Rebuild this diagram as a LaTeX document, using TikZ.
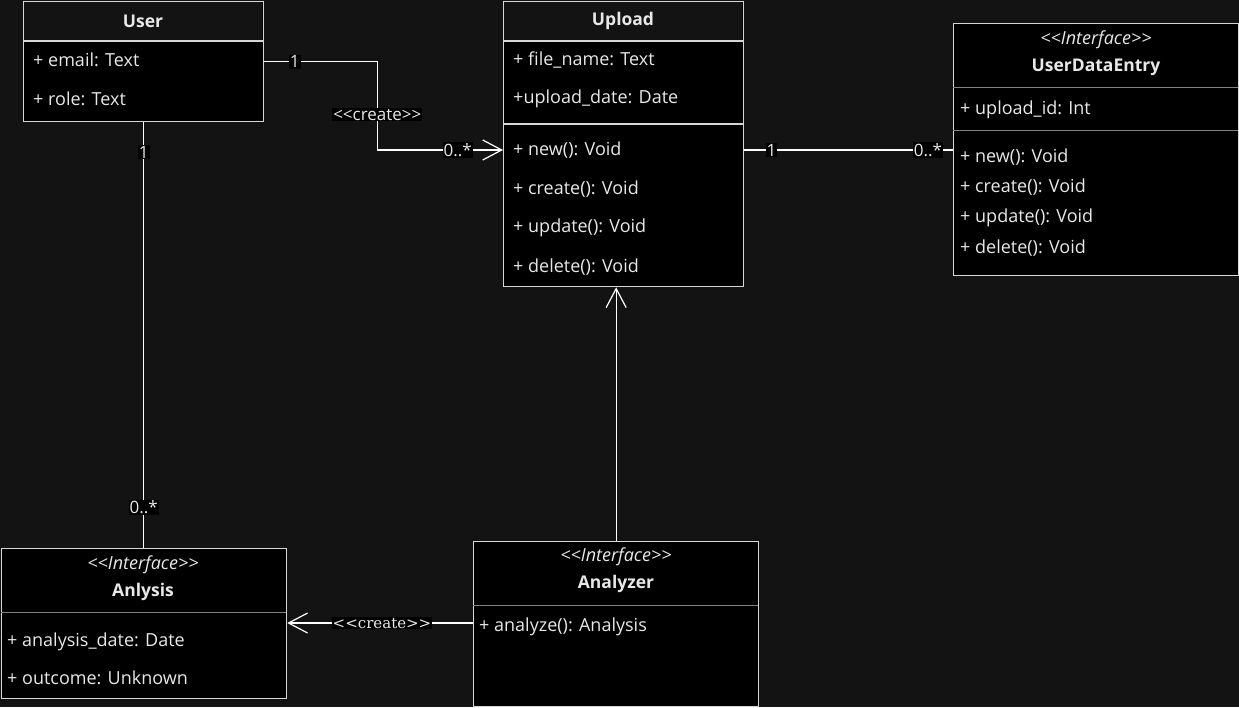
\documentclass[tikz,border=0pt]{standalone}
\usepackage{fontspec}
\setmainfont{Open Sans}
\newfontfamily\seriflabel{DejaVu Serif}
\usetikzlibrary{arrows.meta, positioning}
\definecolor{canvas}{RGB}{19,19,19}
\definecolor{edge}{RGB}{214,214,214}
\definecolor{divider}{RGB}{130,130,130}
\definecolor{ink}{RGB}{232,232,232}
\newcommand{\stereo}[1]{<{}<#1>{}>}

\begin{document}
\begin{tikzpicture}[x=1pt, y=-1pt, font=\fontsize{18}{21}\selectfont, text=ink,
  cls/.style={rectangle, draw=edge, fill=black, line width=1.3pt,
              anchor=north west, inner sep=0pt},
  title/.style={font=\fontsize{17.5}{20}\selectfont\bfseries},
  stype/.style={font=\fontsize{18}{20}\selectfont\itshape},
  member/.style={anchor=west, inner sep=0pt},
  lbl/.style={fill=black, inner sep=1pt, text=ink, font=\fontsize{17}{20}\selectfont},
  link/.style={draw=white, line width=1.2pt},
  open/.style={link, -{Straight Barb[length=19pt, width=20pt, line width=1.2pt]}}]
  \fill[canvas] (0,0) rectangle (1239,707);
  \useasboundingbox (0,0) rectangle (1239,707);

  % User
  \node[cls, minimum width=240pt, minimum height=120pt] (user) at (23,1) {};
  \fill[canvas] (23.6,1.6) rectangle (262.4,41);
  \draw[draw=edge, line width=1.3pt] (user.north west) ++(0,40) -- ++(240,0);
  \node[title] (usert) at (143,21) {User};
  \node[member] (umail) at (33,60) {+ email: Text};
  \node[member] (urole) at (33,99) {+ role: Text};

  % Upload
  \node[cls, minimum width=240pt, minimum height=285pt] (upload) at (503,1) {};
  \fill[canvas] (503.6,1.6) rectangle (742.4,41);
  \draw[draw=edge, line width=1.3pt] (upload.north west) ++(0,40) -- ++(240,0);
  \draw[draw=edge, line width=1.3pt] (upload.north west) ++(0,123) -- ++(240,0);
  \node[title] (uploadt) at (623,21) {Upload};
  \node[member] (upname) at (513,60) {+ file\_name: Text};
  \node[member] (update) at (513,99) {+upload\_date: Date};
  \node[member] (upnew) at (513,150) {+ new(): Void};
  \node[member] (upcreate) at (513,189) {+ create(): Void};
  \node[member] (upupdate) at (513,228) {+ update(): Void};
  \node[member] (updelete) at (513,267) {+ delete(): Void};

  % UserDataEntry
  \node[cls, minimum width=285pt, minimum height=252pt] (ude) at (953,23) {};
  \draw[divider, line width=0.8pt] (ude.north west) ++(0,64) -- ++(285,0);
  \draw[divider, line width=0.8pt] (ude.north west) ++(0,107) -- ++(285,0);
  \node[stype] (udes) at (1096,40) {\stereo{Interface}};
  \node[title] (udet) at (1096,67) {UserDataEntry};
  \node[member] (udeid) at (960,110) {+ upload\_id: Int};
  \node[member] (udenew) at (960,157) {+ new(): Void};
  \node[member] (udecreate) at (960,187) {+ create(): Void};
  \node[member] (udeupdate) at (960,218) {+ update(): Void};
  \node[member] (udedelete) at (960,248) {+ delete(): Void};

  % Anlysis
  \node[cls, minimum width=285pt, minimum height=150pt] (anl) at (1,548) {};
  \draw[divider, line width=0.8pt] (anl.north west) ++(0,64) -- ++(285,0);
  \node[stype] (anls) at (143,565) {\stereo{Interface}};
  \node[title] (anlt) at (143,592) {Anlysis};
  \node[member] (anldate) at (7,642) {+ analysis\_date: Date};
  \node[member] (anlout) at (7,678) {+ outcome: Unknown};

  % Analyzer
  \node[cls, minimum width=285pt, minimum height=165pt] (azr) at (473,541) {};
  \draw[divider, line width=0.8pt] (azr.north west) ++(0,64) -- ++(285,0);
  \node[stype] (azrs) at (616,557) {\stereo{Interface}};
  \node[title] (azrt) at (616,584) {Analyzer};
  \node[member] (azrrun) at (479,627) {+ analyze(): Analysis};

  % links
  \draw[open] (user.east) -- node[lbl, pos=0.27] {1} ++(113,0)
    |- node[lbl, pos=0.3] {\stereo{create}} node[lbl, pos=0.82] {0..*}
    (upload.west |- upnew);
  \draw[link] (upload.east |- upnew) -- node[lbl, pos=0.13] {1}
    node[lbl, pos=0.88] {0..*} (ude.west |- upnew);
  \draw[link] (user.south) -- node[lbl, pos=0.07] {1}
    node[lbl, pos=0.905] {0..*} (user.south |- anl.north);
  \draw[open] (azr.north) -- (azr.north |- upload.south);
  \draw[open] ([yshift=4pt]azr.west |- azrrun) --
    node[lbl, pos=0.49, font=\fontsize{15}{17}\seriflabel] {\stereo{create}}
    ([yshift=4pt]anl.east |- azrrun);
\end{tikzpicture}
\end{document}
